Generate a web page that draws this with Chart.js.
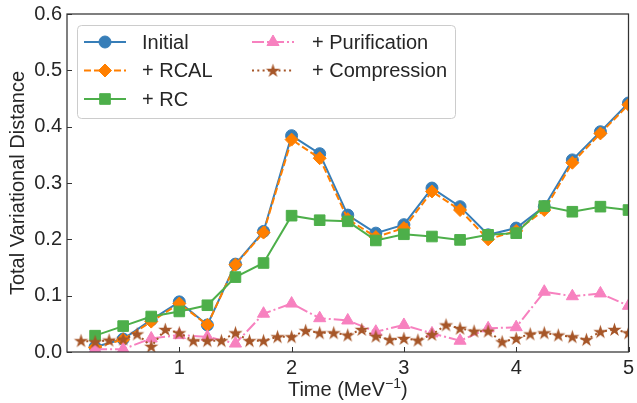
<!DOCTYPE html>
<html>
<head>
<meta charset="utf-8">
<script src="https://cdn.jsdelivr.net/npm/chart.js@4.4.0/dist/chart.umd.min.js"></script>
<style>
  html, body { margin: 0; padding: 0; background: #fff; }
</style>
</head>
<body>
<canvas id="tvd" width="637" height="403"></canvas>
<script>
// time grid for the first four curves (MeV^-1)
const timeSteps = [0.25, 0.5, 0.75, 1.0, 1.25, 1.5, 1.75, 2.0, 2.25, 2.5,
                   2.75, 3.0, 3.25, 3.5, 3.75, 4.0, 4.25, 4.5, 4.75, 5.0];
// compression was sampled twice as often
const compressionSteps = [0.125, 0.25, 0.375, 0.5, 0.625, 0.75, 0.875, 1.0, 1.125, 1.25,
                          1.375, 1.5, 1.625, 1.75, 1.875, 2.0, 2.125, 2.25, 2.375, 2.5,
                          2.625, 2.75, 2.875, 3.0, 3.125, 3.25, 3.375, 3.5, 3.625, 3.75,
                          3.875, 4.0, 4.125, 4.25, 4.375, 4.5, 4.625, 4.75, 4.875, 5.0];

const initial      = [0.009, 0.023, 0.057, 0.089, 0.048, 0.156, 0.214, 0.384, 0.352, 0.243,
                      0.211, 0.226, 0.291, 0.258, 0.208, 0.220, 0.258, 0.341, 0.391, 0.442];
const rcal         = [0.008, 0.022, 0.054, 0.086, 0.048, 0.155, 0.212, 0.377, 0.344, 0.236,
                      0.204, 0.220, 0.285, 0.252, 0.200, 0.215, 0.252, 0.336, 0.388, 0.439];
const rc           = [0.029, 0.046, 0.063, 0.072, 0.083, 0.133, 0.158, 0.242, 0.234, 0.232,
                      0.198, 0.209, 0.205, 0.199, 0.208, 0.211, 0.259, 0.249, 0.258, 0.252];
const purification = [0.005, 0.005, 0.024, 0.030, 0.027, 0.015, 0.068, 0.086, 0.060, 0.056,
                      0.036, 0.048, 0.033, 0.020, 0.042, 0.044, 0.107, 0.099, 0.104, 0.082];
const compression  = [0.020, 0.018, 0.021, 0.023, 0.032, 0.010, 0.040, 0.034, 0.020, 0.020,
                      0.020, 0.034, 0.020, 0.020, 0.027, 0.027, 0.038, 0.034, 0.034, 0.030,
                      0.040, 0.028, 0.022, 0.024, 0.021, 0.031, 0.048, 0.042, 0.037, 0.037,
                      0.018, 0.024, 0.032, 0.034, 0.030, 0.027, 0.022, 0.036, 0.040, 0.034];

const seriesLabels = ['Initial', '+ RCAL', '+ RC', '+ Purification', '+ Compression'];
const yTicks = [0.0, 0.1, 0.2, 0.3, 0.4, 0.5, 0.6];
const xTicks = [1, 2, 3, 4, 5];

const FONT = '"Liberation Sans", Arial, Helvetica, sans-serif';
const TEXT = '#262626';
const FONT_SIZE = 20;

function makeStar(color, r) {
    // filled 5-point star like matplotlib's '*'
    const size = Math.ceil(r * 2 + 2);
    const c = document.createElement('canvas');
    c.width = size; c.height = size;
    const g = c.getContext('2d');
    const cx = size / 2, cy = size / 2 + 0.5, ri = r * 0.382;
    g.beginPath();
    for (let i = 0; i < 10; i++) {
        const rad = i % 2 === 0 ? r : ri;
        const a = -Math.PI / 2 + i * Math.PI / 5;
        const px = cx + rad * Math.cos(a), py = cy + rad * Math.sin(a);
        if (i === 0) g.moveTo(px, py); else g.lineTo(px, py);
    }
    g.closePath();
    g.fillStyle = color;
    g.fill();
    return c;
}

function pairs(xs, ys) {
    return xs.map((x, i) => ({ x: x, y: ys[i] }));
}

const starImg = makeStar('#a65628', 7.5);

const styles = [
    { color: '#377eb8', dash: [],            point: 'circle',   radius: 6 },
    { color: '#ff7f00', dash: [7, 3],        point: 'rectRot',  radius: 6.5 },
    { color: '#4daf4a', dash: [],            point: 'rect',     radius: 7.5 },
    { color: '#f781bf', dash: [12, 3, 2, 3], point: 'triangle', radius: 7 },
    { color: '#a65628', dash: [2, 3.3],      point: starImg,    radius: 7 }
];

const seriesData = [
    pairs(timeSteps, initial),
    pairs(timeSteps, rcal),
    pairs(timeSteps, rc),
    pairs(timeSteps, purification),
    pairs(compressionSteps, compression)
];

const datasets = seriesData.map((d, i) => ({
    label: seriesLabels[i],
    data: d,
    borderColor: styles[i].color,
    backgroundColor: styles[i].color,
    borderWidth: 2,
    borderDash: styles[i].dash,
    pointStyle: styles[i].point,
    pointRadius: styles[i].radius,
    pointHoverRadius: styles[i].radius,
    pointBackgroundColor: styles[i].color,
    pointBorderColor: styles[i].color,
    pointBorderWidth: 1,
    tension: 0,
    fill: false,
    clip: { left: 0, top: 0, right: 0, bottom: 0 },
    order: 4 - i   // later series drawn on top, as in the original
}));

const decorPlugin = {
    id: 'decor',
    afterDatasetsDraw(chart) {
        const ctx = chart.ctx;
        const a = chart.chartArea;
        const xs = chart.scales.x, ys = chart.scales.y;
        ctx.save();

        // frame
        ctx.strokeStyle = '#333333';
        ctx.lineWidth = 1.25;
        ctx.setLineDash([]);
        ctx.strokeRect(a.left, a.top, a.right - a.left, a.bottom - a.top);

        // inward ticks
        ctx.lineWidth = 1;
        ctx.beginPath();
        yTicks.forEach(v => {
            const y = Math.round(ys.getPixelForValue(v)) + 0.5;
            ctx.moveTo(a.left, y); ctx.lineTo(a.left + 5, y);
        });
        xTicks.forEach(v => {
            const x = Math.round(xs.getPixelForValue(v)) + 0.5;
            ctx.moveTo(x, a.bottom); ctx.lineTo(x, a.bottom - 5);
        });
        ctx.stroke();

        // legend
        const box = { x: 77, y: 25, w: 378, h: 93 };
        ctx.beginPath();
        ctx.roundRect(box.x + 0.5, box.y + 0.5, box.w, box.h, 4);
        ctx.fillStyle = 'rgba(255,255,255,0.8)';
        ctx.fill();
        ctx.strokeStyle = '#cccccc';
        ctx.lineWidth = 1;
        ctx.stroke();

        const colHandle = [84, 252];
        const colText = [142, 312];
        const rowY = [42, 70.5, 99];
        const handleLen = 42;
        ctx.font = FONT_SIZE + 'px ' + FONT;
        ctx.textBaseline = 'middle';
        ctx.textAlign = 'left';
        datasets.forEach((ds, i) => {
            const col = i < 3 ? 0 : 1;
            const row = i < 3 ? i : i - 3;
            const x0 = colHandle[col], y = rowY[row];
            const st = styles[i];
            ctx.strokeStyle = st.color;
            ctx.fillStyle = st.color;
            ctx.lineWidth = 2;
            ctx.setLineDash(st.dash);
            ctx.beginPath();
            ctx.moveTo(x0, y); ctx.lineTo(x0 + handleLen, y);
            ctx.stroke();
            ctx.setLineDash([]);
            ctx.lineWidth = 1;
            Chart.helpers.drawPoint(ctx, {
                pointStyle: st.point, radius: st.radius, borderWidth: 1, rotation: 0
            }, x0 + handleLen / 2, y);
            ctx.fillStyle = TEXT;
            ctx.fillText(ds.label, colText[col], y + 1);
        });

        // axis titles
        ctx.fillStyle = TEXT;
        ctx.font = FONT_SIZE + 'px ' + FONT;
        ctx.save();
        ctx.translate(18, (a.top + a.bottom) / 2);
        ctx.rotate(-Math.PI / 2);
        ctx.textAlign = 'center';
        ctx.textBaseline = 'middle';
        ctx.fillText('Total Variational Distance', 0, 0);
        ctx.restore();

        // Time (MeV^-1) with a real superscript
        const partA = 'Time (MeV', partB = '\u22121', partC = ')';
        const supFont = Math.round(FONT_SIZE * 0.7) + 'px ' + FONT;
        const wA = ctx.measureText(partA).width;
        const wC = ctx.measureText(partC).width;
        ctx.font = supFont;
        const wB = ctx.measureText(partB).width;
        const total = wA + wB + wC;
        const cx = (a.left + a.right) / 2;
        let tx = cx - total / 2;
        const ty = 396;
        ctx.textAlign = 'left';
        ctx.textBaseline = 'alphabetic';
        ctx.font = FONT_SIZE + 'px ' + FONT;
        ctx.fillText(partA, tx, ty);
        tx += wA;
        ctx.font = supFont;
        ctx.fillText(partB, tx, ty - 8);
        tx += wB;
        ctx.font = FONT_SIZE + 'px ' + FONT;
        ctx.fillText(partC, tx, ty);

        ctx.restore();
    }
};

new Chart(document.getElementById('tvd').getContext('2d'), {
    type: 'line',
    data: { datasets: datasets },
    options: {
        responsive: false,
        animation: false,
        devicePixelRatio: 1,
        layout: { padding: { top: 14, right: 6, left: 0, bottom: 0 } },
        plugins: { legend: { display: false }, tooltip: { enabled: false } },
        scales: {
            x: {
                type: 'linear',
                min: 0,
                max: 5,
                afterBuildTicks: s => { s.ticks = xTicks.map(v => ({ value: v })); },
                afterFit: s => { s.height = 51; s.paddingLeft = 0; s.paddingRight = 0; },
                grid: { display: false, drawTicks: false },
                border: { display: false },
                ticks: {
                    color: TEXT,
                    padding: 4,
                    maxRotation: 0,
                    font: { family: FONT, size: FONT_SIZE },
                    callback: v => String(v)
                }
            },
            y: {
                min: 0,
                max: 0.6,
                afterBuildTicks: s => { s.ticks = yTicks.map(v => ({ value: v })); },
                afterFit: s => { s.width = 67; s.paddingTop = 0; s.paddingBottom = 0; },
                grid: { display: false, drawTicks: false },
                border: { display: false },
                ticks: {
                    color: TEXT,
                    padding: 5,
                    font: { family: FONT, size: FONT_SIZE },
                    callback: v => v.toFixed(1)
                }
            }
        }
    },
    plugins: [decorPlugin]
});
</script>
</body>
</html>
